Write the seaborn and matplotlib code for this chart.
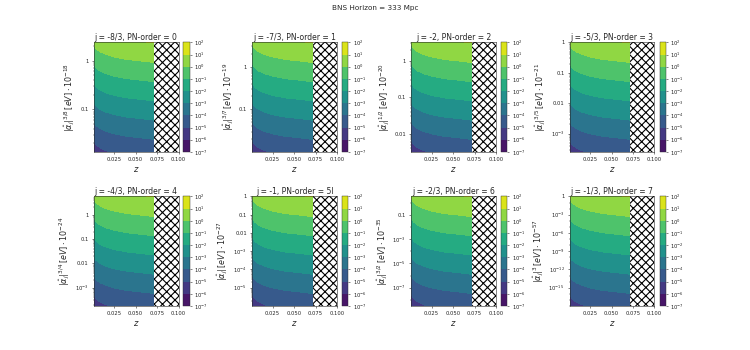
import numpy as np
import matplotlib
matplotlib.use("Agg")
import matplotlib.pyplot as plt
from matplotlib.ticker import FixedLocator, FuncFormatter, MultipleLocator
import seaborn as sns

# panel metadata
j_labels = ['-8/3', '-7/3', '-2', '-5/3', '-4/3', '-1', '-2/3', '-1/3']
pn_orders = ['0', '1', '2', '3', '4', '5l', '6', '7']
alpha_powers = ['3/8', '3/7', '1/2', '3/5', '3/4', '', '3/2', '3']
scale_exps = [-18, -19, -20, -21, -24, -27, -35, -57]

# log10 of the y-range shown in each panel
y_log_lo = [-1.875, -2.0, -2.5, -3.6, -3.75, -6.0, -8.5, -18.0]
y_log_hi = [0.375, 0.57, 0.5, 0.0, 0.75, 0.0, 0.5, 0.0]
y_tick_top = [0, 0, 0, 0, 0, 0, -1, 0]
y_tick_step = [1, 1, 1, 1, 1, 1, 2, 3]

# redshift samples and log10 of the mapped quantity on the lower / upper edge
# (the map looks the same in every panel once the y-range is rescaled)
z_nodes = [0.001, 0.002, 0.004, 0.008, 0.015, 0.025, 0.040, 0.055, 0.072]
logval_top = [0.05, 0.17, 0.32, 0.47, 0.62, 0.76, 0.89, 0.96, 1.05]
logval_bottom = [-5.65, -5.53, -5.38, -5.23, -5.08, -4.94, -4.81, -4.74, -4.65]

horizon_z = 0.072
z_max = 0.1
horizon_mpc = 333
level_exps = list(range(-7, 3))

sns.set_style("ticks")
plt.rcParams['font.family'] = ['DejaVu Sans']
plt.rcParams['hatch.linewidth'] = 1.6

cmap = sns.color_palette("viridis", as_cmap=True)

fig = plt.figure(figsize=(15, 7), dpi=50)
fig.suptitle(f'BNS Horizon = {horizon_mpc} Mpc', fontsize=10.5, y=0.985)

col_left = [93.5, 252, 411, 569.5]
row_bottom = [0.566, 0.1257]
ax_w = 85 / 750
ax_h = 0.313


def ytick_label(v, pos):
    k = int(round(v))
    if k == 0:
        return '1'
    if k == -1:
        return '0.1'
    if k == -2:
        return '0.01'
    return r'$10^{%d}$' % k


def cbar_label(v, pos):
    return r'$10^{%d}$' % int(round(v))


for i in range(8):
    r, c = divmod(i, 4)
    left = col_left[c] / 750
    ax = fig.add_axes([left, row_bottom[r], ax_w, ax_h])
    cax = fig.add_axes([left + 90 / 750, row_bottom[r], 6 / 750, ax_h])

    lo, hi = y_log_lo[i], y_log_hi[i]
    field = np.array([logval_bottom, logval_top])
    cs = ax.contourf(z_nodes, [lo, hi], field, levels=level_exps,
                     vmin=level_exps[0], vmax=level_exps[-1], cmap=cmap)

    # region beyond the detector horizon
    ax.axvspan(horizon_z, z_max, facecolor='white', edgecolor='black',
               hatch='xx', lw=0, zorder=1.2)

    ax.set_xlim(z_nodes[0], z_max)
    ax.set_ylim(lo, hi)
    ax.xaxis.set_major_locator(MultipleLocator(0.025))
    ax.xaxis.set_major_formatter(FuncFormatter(lambda v, p: f'{v:.3f}'))

    step = y_tick_step[i]
    major = np.arange(y_tick_top[i], lo, -step)
    ax.yaxis.set_major_locator(FixedLocator(major))
    ax.yaxis.set_major_formatter(FuncFormatter(ytick_label))
    if step == 1:
        minor = [k + np.log10(m) for k in range(int(np.floor(lo)), int(np.ceil(hi)) + 1)
                 for m in range(2, 10)]
    else:
        minor = [k for k in range(int(np.floor(lo)), int(np.ceil(hi)) + 1) if k not in major]
    minor = [m for m in minor if lo <= m <= hi]
    ax.yaxis.set_minor_locator(FixedLocator(minor))

    ax.grid(True, which='major', color='#b0b0b0', lw=1.4, alpha=0.9)
    ax.tick_params(labelsize=7.5, length=3.5, width=0.8)
    ax.tick_params(which='minor', length=2, width=0.6)
    for sp in ax.spines.values():
        sp.set_linewidth(0.8)

    ax.set_title(f'j = {j_labels[i]}, PN-order = {pn_orders[i]}', fontsize=11, pad=4)
    ax.set_xlabel('$z$', fontsize=12)
    pw = alpha_powers[i]
    sup = f'^{{{pw}}}' if pw else ''
    ax.set_ylabel(r'$|\hat{\alpha}_j|' + sup + r'\,[eV]\cdot10^{' + str(scale_exps[i]) + '}$',
                  fontsize=11.5)

    cb = fig.colorbar(cs, cax=cax)
    cb.set_ticks(level_exps)
    cb.ax.yaxis.set_major_formatter(FuncFormatter(cbar_label))
    cb.ax.minorticks_off()
    cb.ax.tick_params(labelsize=7.5, length=3, width=0.8)
    cb.outline.set_linewidth(0.6)

fig.savefig('out.png', dpi=50)
